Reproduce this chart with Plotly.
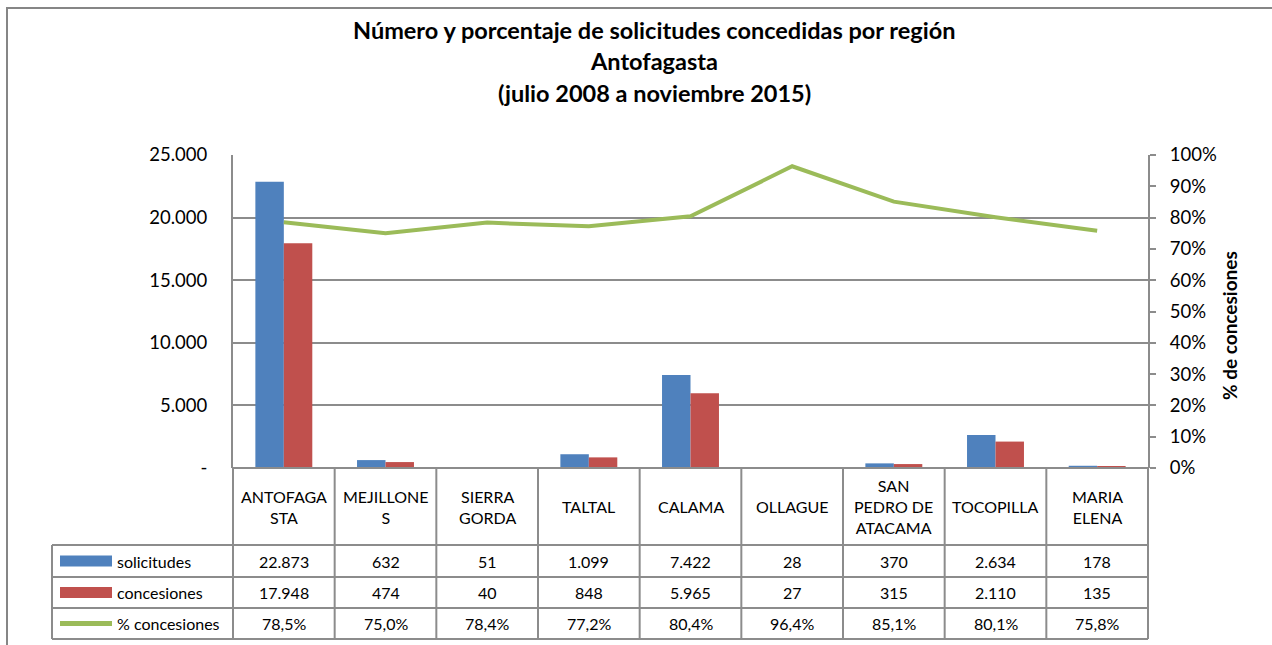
import plotly.graph_objects as go

# ---------------- data ----------------
categories = ["ANTOFAGASTA", "MEJILLONES", "SIERRA GORDA", "TALTAL", "CALAMA",
              "OLLAGUE", "SAN PEDRO DE ATACAMA", "TOCOPILLA", "MARIA ELENA"]
category_labels = ["ANTOFAGA<br>STA", "MEJILLONE<br>S", "SIERRA<br>GORDA", "TALTAL", "CALAMA",
                   "OLLAGUE", "SAN<br>PEDRO DE<br>ATACAMA", "TOCOPILLA", "MARIA<br>ELENA"]
solicitudes = [22873, 632, 51, 1099, 7422, 28, 370, 2634, 178]
concesiones = [17948, 474, 40, 848, 5965, 27, 315, 2110, 135]
pct_concesiones = [0.785, 0.750, 0.784, 0.772, 0.804, 0.964, 0.851, 0.801, 0.758]

left_tickvals = [0, 5000, 10000, 15000, 20000, 25000]
left_ticktext = ["-", "5.000", "10.000", "15.000", "20.000", "25.000"]
right_tickvals = [0, 0.1, 0.2, 0.3, 0.4, 0.5, 0.6, 0.7, 0.8, 0.9, 1.0]
right_ticktext = ["0%", "10%", "20%", "30%", "40%", "50%", "60%", "70%", "80%", "90%", "100%"]

title_lines = ["Número y porcentaje de solicitudes concedidas por región",
               "Antofagasta", "(julio 2008 a noviembre 2015)"]
series_names = ["solicitudes", "concesiones", "% concesiones"]

# ---------------- style ----------------
W, H = 1272, 645
PL, PR, PT, PB = 233, 1148, 155, 468   # plot area in pixels
FONT = "Lato"
BLUE, RED, GREEN = "#4F81BD", "#C0504D", "#9BBB59"
GRID = "#8C8C8C"

def px(x):
    return (x - PL) / (PR - PL)

def py(y):
    return (PB - y) / (PB - PT)

def fmt_int(v):
    return f"{v:,}".replace(",", ".")

def fmt_pct(p):
    return f"{p*100:.1f}%".replace(".", ",")

fig = go.Figure()
fig.add_trace(go.Bar(x=categories, y=solicitudes, name=series_names[0],
                     marker=dict(color=BLUE, line=dict(width=0)), yaxis="y"))
fig.add_trace(go.Bar(x=categories, y=concesiones, name=series_names[1],
                     marker=dict(color=RED, line=dict(width=0)), yaxis="y"))
fig.add_trace(go.Scatter(x=categories, y=pct_concesiones, name=series_names[2],
                         mode="lines", line=dict(color=GREEN, width=4), yaxis="y2"))

shapes = []
annotations = []

# outer chart border
shapes.append(dict(type="rect", xref="paper", yref="paper",
                   x0=px(7), x1=px(1290), y0=py(8), y1=py(700),
                   line=dict(color="#868686", width=2), layer="below"))

# data table
n = len(categories)
row_edges = [468, 545, 577, 608, 639]
line_style = dict(color=GRID, width=2)
shapes.append(dict(type="line", xref="paper", yref="paper", x0=0, x1=1,
                   y0=py(row_edges[0]), y1=py(row_edges[0]), line=line_style))
for r in row_edges[1:]:
    shapes.append(dict(type="line", xref="paper", yref="paper", x0=px(52), x1=1,
                       y0=py(r), y1=py(r), line=line_style))
for i in range(n + 1):
    shapes.append(dict(type="line", xref="paper", yref="paper", x0=i / n, x1=i / n,
                       y0=py(row_edges[0]), y1=py(row_edges[-1]), line=line_style))
shapes.append(dict(type="line", xref="paper", yref="paper", x0=px(52), x1=px(52),
                   y0=py(row_edges[1]), y1=py(row_edges[-1]), line=line_style))

TFONT = dict(family=FONT, size=16, color="#000000")
for i, lab in enumerate(category_labels):
    annotations.append(dict(xref="paper", yref="paper", x=(i + 0.5) / n,
                            y=py((row_edges[0] + row_edges[1]) / 2), text=lab,
                            showarrow=False, font=TFONT, xanchor="center", yanchor="middle"))
rows = [[fmt_int(v) for v in solicitudes],
        [fmt_int(v) for v in concesiones],
        [fmt_pct(v) for v in pct_concesiones]]
for r, vals in enumerate(rows):
    yc = py((row_edges[r + 1] + row_edges[r + 2]) / 2)
    for i, t in enumerate(vals):
        annotations.append(dict(xref="paper", yref="paper", x=(i + 0.5) / n, y=yc,
                                text=t, showarrow=False, font=TFONT,
                                xanchor="center", yanchor="middle"))
    annotations.append(dict(xref="paper", yref="paper", x=px(115), y=yc,
                            text=series_names[r], showarrow=False, font=TFONT,
                            xanchor="left", yanchor="middle"))
for r, col in enumerate([BLUE, RED]):
    yc = (row_edges[r + 1] + row_edges[r + 2]) / 2
    shapes.append(dict(type="rect", xref="paper", yref="paper", x0=px(60), x1=px(112),
                       y0=py(yc - 5.5), y1=py(yc + 5.5), fillcolor=col, line=dict(width=0)))
yc = (row_edges[3] + row_edges[4]) / 2
shapes.append(dict(type="line", xref="paper", yref="paper", x0=px(60), x1=px(112),
                   y0=py(yc), y1=py(yc), line=dict(color=GREEN, width=5)))

# title
for t, ypos in zip(title_lines, [30, 61, 93]):
    annotations.append(dict(xref="paper", yref="paper", x=px(654), y=py(ypos),
                            text=f"<b>{t}</b>", showarrow=False,
                            font=dict(family=FONT, size=23.5, color="#000000"),
                            xanchor="center", yanchor="middle"))
# right axis title
annotations.append(dict(xref="paper", yref="paper", x=px(1229), y=py(326),
                        text="<b>% de concesiones</b>", textangle=-90, showarrow=False,
                        font=dict(family=FONT, size=19, color="#000000"),
                        xanchor="center", yanchor="middle"))

fig.update_layout(
    width=W, height=H,
    margin=dict(l=PL, r=W - PR, t=PT, b=H - PB, pad=0),
    paper_bgcolor="white", plot_bgcolor="white",
    showlegend=False,
    barmode="group", bargap=0.44, bargroupgap=0,
    font=dict(family=FONT, size=16, color="#000000"),
    xaxis=dict(type="category", showticklabels=False, showgrid=False, ticks="",
               showline=False, range=[-0.5, n - 0.5], zeroline=False),
    yaxis=dict(range=[0, 25000], tickvals=left_tickvals, ticktext=left_ticktext,
               showgrid=True, gridcolor=GRID, gridwidth=2, zeroline=False,
               showline=True, linecolor=GRID, linewidth=2,
               ticks="", ticklabelstandoff=20,
               tickfont=dict(family=FONT, size=18.5)),
    yaxis2=dict(range=[0, 1], overlaying="y", side="right",
                tickvals=right_tickvals, ticktext=right_ticktext,
                showgrid=False, zeroline=False,
                showline=True, linecolor=GRID, linewidth=2,
                ticks="outside", ticklen=6, tickcolor=GRID, tickwidth=2,
                ticklabelstandoff=10,
                tickfont=dict(family=FONT, size=18.5)),
    shapes=shapes,
    annotations=annotations,
)

fig.write_html("out.html", config={"displayModeBar": False},
               post_script="document.body.style.margin='0';document.body.style.overflow='hidden';")
